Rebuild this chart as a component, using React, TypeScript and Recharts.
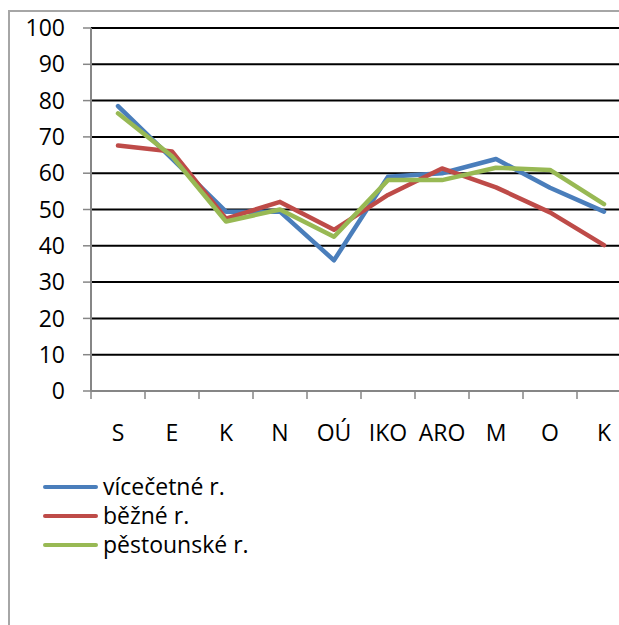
import { LineChart, Line, XAxis, YAxis, CartesianGrid, Legend } from 'recharts';

// ============================================================================
// Data
// ============================================================================

const categories = ['S', 'E', 'K', 'N', 'OÚ', 'IKO', 'ARO', 'M', 'O', 'K'];
const vicecetne = [78.5, 64, 49.4, 49.4, 36, 59, 60, 63.9, 56, 49.4];
const bezne = [67.6, 66, 47.5, 52.1, 44.4, 54, 61.3, 56.1, 49.2, 40.2];
const pestounske = [76.5, 64.7, 46.7, 50, 42.5, 58.1, 58.1, 61.5, 60.9, 51.5];
const yTicks = [0, 10, 20, 30, 40, 50, 60, 70, 80, 90, 100];

const seriesNames = ['vícečetné r.', 'běžné r.', 'pěstounské r.'];
const seriesKeys = ['vicecetne', 'bezne', 'pestounske'];

// ============================================================================
// Styles
// ============================================================================

const FONT = '"Open Sans", sans-serif';
const FONT_SIZE = 23;
const COLORS = ['#4A7EBB', '#BE4B48', '#98B954'];
const AXIS_GRAY = '#868686';
const PLOT_WIDTH = 540;
const HALF_BAND = PLOT_WIDTH / categories.length / 2;

const rows = categories.map((cat, i) => ({
  cat,
  vicecetne: vicecetne[i],
  bezne: bezne[i],
  pestounske: pestounske[i],
}));

// ============================================================================
// Custom pieces
// ============================================================================

// Excel-style category axis: tick marks sit between categories
function CategoryTick(props: any) {
  const { x, y, payload } = props;
  const left = x - HALF_BAND;
  return (
    <g>
      <line x1={left} y1={y} x2={left} y2={y + 8} stroke={AXIS_GRAY} strokeWidth={1.5} />
      <text
        x={x}
        y={y + 42}
        dy="0.355em"
        textAnchor="middle"
        fill="#000"
        fontSize={FONT_SIZE}
        fontFamily={FONT}
      >
        {payload.value}
      </text>
    </g>
  );
}

function LegendList() {
  return (
    <div style={{ fontFamily: FONT, fontSize: FONT_SIZE, color: '#000' }}>
      {seriesNames.map((name, i) => (
        <div key={name} style={{ display: 'flex', alignItems: 'center', height: 29 }}>
          <span
            style={{
              display: 'inline-block',
              width: 55,
              height: 4,
              borderRadius: 2,
              background: COLORS[i],
              marginRight: 5,
            }}
          />
          <span style={{ lineHeight: '29px', whiteSpace: 'nowrap' }}>{name}</span>
        </div>
      ))}
    </div>
  );
}

// ============================================================================
// Component
// ============================================================================

export default function App() {
  return (
    <div
      style={{
        position: 'absolute',
        left: 0,
        top: 0,
        width: 619,
        height: 625,
        overflow: 'hidden',
        background: '#fff',
      }}
    >
      <div
        style={{
          position: 'absolute',
          left: 8,
          top: 10,
          width: 700,
          height: 700,
          border: '2px solid #a6a6a6',
        }}
      />
      <LineChart
        width={660}
        height={625}
        data={rows}
        margin={{ top: 28, right: 29, left: 31, bottom: 194 }}
        style={{ position: 'absolute', left: 0, top: 0 }}
      >
        <CartesianGrid horizontal vertical={false} stroke="#000" strokeWidth={2} />
        <XAxis
          dataKey="cat"
          padding={{ left: HALF_BAND, right: HALF_BAND }}
          height={40}
          tickSize={0}
          tickMargin={0}
          interval={0}
          tick={<CategoryTick />}
          tickLine={false}
          axisLine={{ stroke: AXIS_GRAY, strokeWidth: 2 }}
        />
        <YAxis
          width={60}
          domain={[0, 100]}
          ticks={yTicks}
          interval={0}
          tickSize={8}
          tickMargin={18}
          tick={{ fill: '#000', fontSize: FONT_SIZE, fontFamily: FONT }}
          tickLine={{ stroke: AXIS_GRAY, strokeWidth: 1.5 }}
          axisLine={{ stroke: AXIS_GRAY, strokeWidth: 2 }}
        />
        <Legend
          content={<LegendList />}
          wrapperStyle={{ top: 472, left: 43, bottom: 'auto', width: 300, height: 0 }}
        />
        {seriesKeys.map((key, i) => (
          <Line
            key={key}
            dataKey={key}
            name={seriesNames[i]}
            type="linear"
            stroke={COLORS[i]}
            strokeWidth={4.5}
            strokeLinejoin="round"
            strokeLinecap="round"
            dot={false}
            activeDot={false}
            isAnimationActive={false}
          />
        ))}
      </LineChart>
    </div>
  );
}
